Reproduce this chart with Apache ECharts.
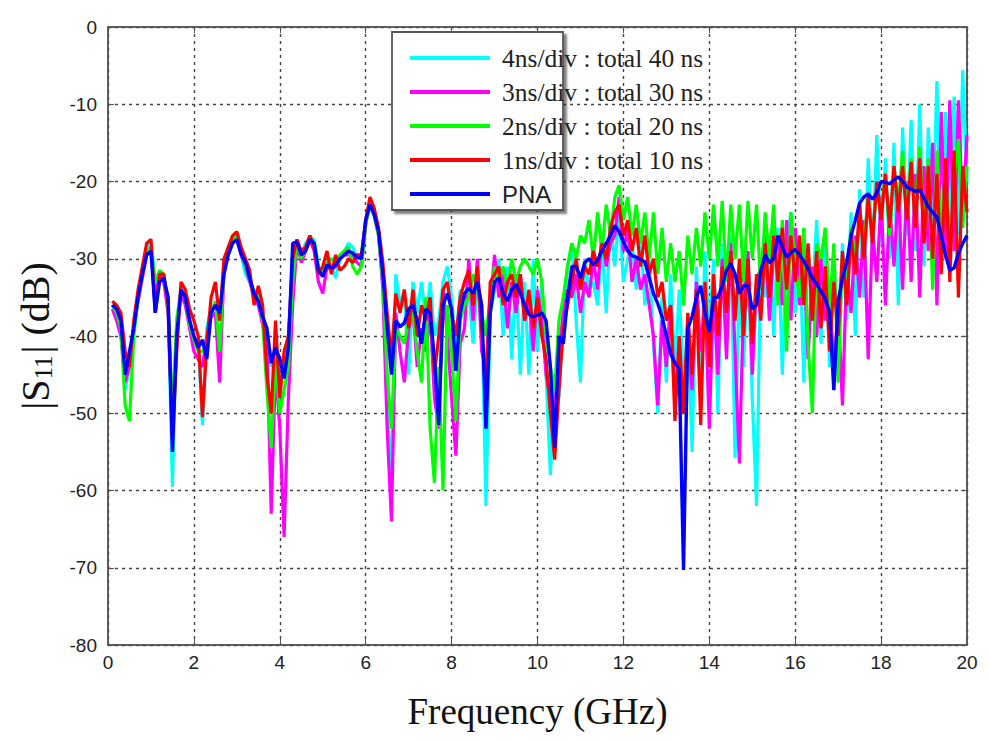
<!DOCTYPE html>
<html><head><meta charset="utf-8">
<script src="https://cdn.jsdelivr.net/npm/echarts@6/dist/echarts.min.js"></script>
<style>html,body{margin:0;padding:0;background:#fff}#c{width:988px;height:740px}</style>
</head><body><div id="c"></div>
<script>
// Frequency grid (GHz)
const freq = [
 0.1,0.2,0.3,0.4,0.5,0.6,0.7,0.8,0.9,1.0,
 1.1,1.2,1.3,1.4,1.5,1.6,1.7,1.8,1.9,2.0,
 2.1,2.2,2.3,2.4,2.5,2.6,2.7,2.8,2.9,3.0,
 3.1,3.2,3.3,3.4,3.5,3.6,3.7,3.8,3.9,4.0,
 4.1,4.2,4.3,4.4,4.5,4.6,4.7,4.8,4.9,5.0,
 5.1,5.2,5.3,5.4,5.5,5.6,5.7,5.8,5.9,6.0,
 6.1,6.2,6.3,6.4,6.5,6.6,6.7,6.8,6.9,7.0,
 7.1,7.2,7.3,7.4,7.5,7.6,7.7,7.8,7.9,8.0,
 8.1,8.2,8.3,8.4,8.5,8.6,8.7,8.8,8.9,9.0,
 9.1,9.2,9.3,9.4,9.5,9.6,9.7,9.8,9.9,10.0,
 10.1,10.2,10.3,10.4,10.5,10.6,10.7,10.8,10.9,11.0,
 11.1,11.2,11.3,11.4,11.5,11.6,11.7,11.8,11.9,12.0,
 12.1,12.2,12.3,12.4,12.5,12.6,12.7,12.8,12.9,13.0,
 13.1,13.2,13.3,13.4,13.5,13.6,13.7,13.8,13.9,14.0,
 14.1,14.2,14.3,14.4,14.5,14.6,14.7,14.8,14.9,15.0,
 15.1,15.2,15.3,15.4,15.5,15.6,15.7,15.8,15.9,16.0,
 16.1,16.2,16.3,16.4,16.5,16.6,16.7,16.8,16.9,17.0,
 17.1,17.2,17.3,17.4,17.5,17.6,17.7,17.8,17.9,18.0,
 18.1,18.2,18.3,18.4,18.5,18.6,18.7,18.8,18.9,19.0,
 19.1,19.2,19.3,19.4,19.5,19.6,19.7,19.8,19.9,20.0
];
// PNA measurement (dB)
const pna = [
 -36,-36.5,-38,-45,-42,-39,-35,-32,-29.5,-29,
 -37,-33,-32.5,-35,-55,-40,-34,-35,-38,-40,
 -41.5,-40.5,-43,-37,-36,-37,-32,-29.5,-28,-27.5,
 -29.4,-30.5,-32.5,-34.5,-35.5,-37.5,-39,-43.5,-41.5,-43,
 -45.5,-41.5,-28,-27.8,-29.5,-29,-27.5,-28,-31.5,-32.3,
 -30.8,-31.2,-30.8,-30,-29.5,-29,-29.3,-29.8,-30,-25,
 -23,-24.3,-26.5,-32,-39,-45,-38,-38.8,-38.3,-36.5,
 -36,-38,-41,-36.5,-37,-43,-51.5,-36,-34.5,-36.5,
 -44.5,-37,-34.5,-33.8,-34.5,-33,-36,-52,-37,-33,
 -32.5,-34.5,-35.5,-34,-33.3,-34.5,-36,-37.2,-37.5,-37.3,
 -37,-38,-44,-54.5,-40,-41,-35,-31,-31,-32.5,
 -30.5,-30,-30.8,-30.2,-29,-28,-27,-25.7,-26.5,-27.8,
 -29,-29.6,-29.8,-30.1,-30.4,-32.4,-34.5,-35.8,-37.5,-40,
 -42.3,-43.5,-44.3,-70.3,-39,-37.5,-35,-33.5,-37,-39.5,
 -35,-35,-33.5,-31.5,-30.6,-32,-34.5,-33.5,-33.5,-36.5,
 -36,-31.5,-29.5,-30.5,-30,-27,-28.5,-29.8,-29.2,-28.8,
 -29.5,-30.3,-31.3,-32.5,-33.3,-34.2,-35.2,-37,-47,-35.5,
 -32.5,-30.5,-27,-25,-22.8,-22,-21.6,-22.3,-21.5,-20,
 -20.1,-20.3,-19.8,-19.4,-20,-20.7,-21,-21.3,-21.1,-22.2,
 -23.3,-24,-24.6,-27,-29.5,-31.5,-31.2,-29.3,-28,-27
];
// 1ns/div : total 10 ns
const ns10 = [
 -35.5,-36,-37,-42,-44,-38,-34,-31,-28,-27.5,
 -37,-32,-32,-36,-53.5,-42,-33,-34,-36.5,-38,
 -40,-50.5,-41,-35,-33,-38,-30,-28.5,-27,-26.5,
 -28.5,-30,-31.5,-36,-33.5,-36,-45,-50,-38,-48,
 -42,-40,-30,-27.5,-29,-28.5,-27,-28.5,-32,-31,
 -29,-32,-29.5,-31.5,-31,-30,-30.5,-29.5,-29.5,-25,
 -22,-23.5,-26,-30.5,-37,-43,-34.5,-37,-34,-39,
 -34,-40,-36,-38,-35,-45,-40,-34,-33,-37,
 -40,-35,-33,-31.5,-36,-31,-39,-47,-33,-32,
 -31,-36,-33,-32,-35,-32,-38,-34,-39,-35,
 -40,-43,-50,-56,-47,-39,-36,-33,-30,-34,
 -31,-32,-29,-31,-28,-30,-26,-24,-23,-27,
 -25,-29,-26,-31,-27,-32,-30,-35,-33,-38,
 -36,-51,-40,-50,-37,-45,-34,-51.5,-33,-44,
 -32,-40,-31,-37,-29,-38,-30,-40,-30,-41,
 -32,-38,-28,-35,-27,-33,-26,-34,-27,-33,
 -27,-36,-28,-38,-29,-39,-31,-42,-33,-40,
 -29,-36,-27,-32,-23,-30,-22,-28,-20,-25,
 -19,-26,-18,-24,-18,-25,-17.5,-26,-17,-28,
 -18,-30,-19,-32,-17,-33,-16,-35,-18,-24
];
// 2ns/div : total 20 ns
const ns20 = [
 -36,-37,-39,-49,-51,-40,-35,-32,-29,-28.5,
 -33,-31.5,-32,-36,-50,-38,-34,-35,-38.5,-40.5,
 -42,-42,-41,-37,-35.5,-42,-31,-29,-27.5,-27,
 -29,-31,-32.5,-35,-35,-38,-47,-54.5,-43,-50,
 -47,-44,-33,-27.5,-30,-28.5,-27,-28,-31,-32,
 -30.5,-30,-30.5,-29.5,-29,-28.5,-31,-32,-31,-25.5,
 -23,-24.5,-27,-33,-45,-52,-39,-40,-41,-38,
 -37,-42,-46,-35,-52,-59,-44,-60,-36,-42,
 -51,-38,-36,-35,-32,-34,-37,-40,-35,-31,
 -33,-31,-34,-30,-33,-31,-30,-31,-32,-30,
 -33,-40,-44,-47,-38,-35,-31,-28,-30,-27,
 -28,-25,-30,-24,-29,-23,-27,-22,-20.5,-25,
 -22,-27,-23,-28,-24,-30,-24,-32,-26,-33,
 -28,-33,-29,-36,-27,-32,-26,-31,-24,-30,
 -23,-31,-22.5,-33,-23,-30,-23,-33,-22.5,-30,
 -23,-34,-24,-30,-23,-36,-25,-42,-24,-31,
 -35,-26,-41,-50,-28,-30,-26,-37,-28,-46,
 -30,-33,-26,-30,-25,-28,-22,-27,-21,-24,
 -19,-27,-18,-23,-16,-24,-17,-25,-15.5,-27,
 -17,-34,-16,-28,-18,-30,-20,-14.5,-26,-18
];
// 3ns/div : total 30 ns
const ns30 = [
 -36.5,-38,-40,-46,-44,-39,-35.5,-32.5,-29.5,-29,
 -35,-32,-33,-37,-52,-39,-34.5,-36,-39,-42,
 -43,-44,-40,-37.5,-37,-46,-31.5,-29,-27.5,-27.5,
 -29.5,-31,-33,-35,-36,-38.5,-41,-63,-44,-52,
 -66,-48,-36,-28,-30.5,-29,-27.5,-29,-33,-34.5,
 -31,-31.5,-31,-30,-29.5,-29.5,-29.5,-30.5,-31,-25.5,
 -23,-24.5,-27,-34,-52,-64,-37,-42,-46,-39,
 -36.5,-44,-39,-42,-37,-48,-52,-34,-40,-48,
 -55.5,-41,-39,-30,-38,-30,-42,-44,-36,-29.5,
 -35,-32,-39,-33,-37,-32,-38,-35,-42,-34,
 -38,-45,-48,-50,-42,-37,-34,-35,-32,-37,
 -33,-35,-30,-34,-27,-31,-28,-27,-22,-29,
 -26,-33,-30,-34,-32,-36,-40,-49,-38,-44,
 -36,-48,-42,-50,-40,-47,-33,-42,-35,-52,
 -34,-45,-30,-43,-28,-42,-56.5,-35,-29,-45,
 -33,-31,-27,-38,-29,-27,-36,-25,-38,-26,
 -36,-30,-43,-31,-40,-30,-38,-33,-45,-36,
 -49,-31,-37,-27,-35,-25,-43,-26,-33,-22,
 -36,-23,-31,-21,-34,-20,-33,-19,-35,-18,
 -29,-15,-36,-11,-30,-9.5,-29,-9.5,-24,-14
];
// 4ns/div : total 40 ns
const ns40 = [
 -36,-37,-38.5,-47,-44,-39.5,-35,-31.5,-28.5,-27.5,
 -33,-32,-33,-36,-59.5,-38,-34,-35,-38,-40,
 -41,-51.5,-39,-36.5,-36,-38,-31,-28.5,-27.5,-27.5,
 -29.5,-32,-33,-34,-34.5,-37,-40,-44,-41,-46,
 -45,-40,-33,-28,-29.5,-28,-27.5,-27.5,-31,-32,
 -30.5,-31,-32.5,-30,-29,-28,-28.5,-30,-29.5,-25,
 -22.5,-24,-26.5,-33,-49,-58.5,-32,-36,-34,-45,
 -33,-37,-33,-38,-33,-40,-38,-33,-31,-35,
 -42,-34,-37,-34,-41,-33,-36,-62,-37,-34,
 -30,-40,-31,-43,-32,-45,-33,-45,-30,-42,
 -33,-45,-58,-45,-48,-38,-31,-28,-38,-46,
 -30,-34,-33,-36,-28,-37,-25,-31,-24,-33,
 -30,-28,-34,-27,-36,-30,-41,-50,-35,-46,
 -32,-45,-34,-47,-38,-55,-31,-46,-29,-40,
 -30,-50,-28,-39,-27,-55.8,-32,-44,-29,-48,
 -62,-30,-35,-27,-40,-26,-45,-28,-24,-37,
 -27,-46,-29,-35,-25,-41,-26,-44,-30,-42,
 -28,-38,-24,-40,-21,-35,-17,-30,-14,-28,
 -17,-30,-15,-36,-13,-27,-12,-29,-10,-31,
 -13,-26,-7,-29,-11,-25,-9,-27,-5.6,-20
];
const seriesNames = ['4ns/div : total 40 ns','3ns/div : total 30 ns','2ns/div : total 20 ns','1ns/div : total 10 ns','PNA'];
const seriesValues = [ns40, ns30, ns20, ns10, pna];
const seriesColors = ['#00FFFF','#FF00FF','#00FF00','#FF0000','#0000FF'];
const xTicks = [0,2,4,6,8,10,12,14,16,18,20];
const yTicks = [-80,-70,-60,-50,-40,-30,-20,-10,0];

const chart = echarts.init(document.getElementById('c'), null, {renderer:'svg'});
const axisLineStyle = {color:'#555', width:1.5};
const splitStyle = {color:'#444', width:1.4, type:[3,4]};
const option = {
  animation:false,
  backgroundColor:'#fff',
  grid:{left:108, right:21, top:27, bottom:95, show:true, borderColor:'#555', borderWidth:1.5},
  xAxis:[{
    type:'value', min:xTicks[0], max:xTicks[xTicks.length-1], interval:xTicks[1]-xTicks[0],
    axisLine:{show:true, onZero:false, lineStyle:axisLineStyle},
    axisTick:{show:true, inside:true, length:6, lineStyle:{color:'#555'}},
    axisLabel:{color:'#222', fontFamily:'Liberation Sans', fontSize:19, margin:8},
    splitLine:{show:true, lineStyle:splitStyle},
    name:'Frequency (GHz)', nameLocation:'middle', nameGap:48,
    nameTextStyle:{fontFamily:'Liberation Serif', fontSize:37, color:'#111'}
  },{
    type:'value', position:'top', min:xTicks[0], max:xTicks[xTicks.length-1], interval:xTicks[1]-xTicks[0],
    axisLine:{show:true, onZero:false, lineStyle:axisLineStyle},
    axisTick:{show:true, inside:true, length:6, lineStyle:{color:'#555'}},
    axisLabel:{show:false}, splitLine:{show:false}
  }],
  yAxis:[{
    type:'value', min:yTicks[0], max:yTicks[yTicks.length-1], interval:yTicks[1]-yTicks[0],
    axisLine:{show:true, onZero:false, lineStyle:axisLineStyle},
    axisTick:{show:true, inside:true, length:6, lineStyle:{color:'#555'}},
    axisLabel:{color:'#222', fontFamily:'Liberation Sans', fontSize:19, margin:11},
    splitLine:{show:true, lineStyle:splitStyle},
    name:'|S{sub|11}| (dB)', nameLocation:'middle', nameGap:52,
    nameTextStyle:{fontFamily:'Liberation Serif', fontSize:40, color:'#111',
      rich:{sub:{fontFamily:'Liberation Serif', fontSize:25, color:'#111', verticalAlign:'bottom', lineHeight:42, padding:[16,2,0,0]}}}
  },{
    type:'value', position:'right', min:yTicks[0], max:yTicks[yTicks.length-1], interval:yTicks[1]-yTicks[0],
    axisLine:{show:true, onZero:false, lineStyle:axisLineStyle},
    axisTick:{show:true, inside:true, length:6, lineStyle:{color:'#555'}},
    axisLabel:{show:false}, splitLine:{show:false}
  }],
  legend:{
    orient:'vertical', left:410, top:45, padding:0, itemGap:8, z:101,
    icon:'rect', itemWidth:80, itemHeight:4,
    data:seriesNames,
    formatter:function(n){ return n==='PNA' ? '{p|'+n+'}' : '{s|'+n+'}'; },
    textStyle:{padding:[0,0,0,7], lineHeight:26,
      rich:{s:{fontFamily:'Liberation Serif', fontSize:25.5, color:'#222', lineHeight:26},
            p:{fontFamily:'Liberation Sans', fontSize:24, color:'#222', lineHeight:26}}}
  },
  graphic:[{
    type:'rect', z:100, shape:{x:392, y:32, width:171, height:178},
    style:{fill:'#fff', stroke:'#555', lineWidth:1.8, shadowColor:'rgba(0,0,0,0.5)', shadowOffsetX:3, shadowOffsetY:3, shadowBlur:2}
  }],
  series: seriesNames.map((name,k)=>({
    name:name, type:'line', symbol:'none', showSymbol:false,
    xAxisIndex:0, yAxisIndex:0,
    lineStyle:{color:seriesColors[k], width:k===4?3.4:3.2}, itemStyle:{color:seriesColors[k]},
    z:2+k,
    data:freq.map((f,i)=>[f, seriesValues[k][i]])
  }))
};
chart.setOption(option);
</script></body></html>
